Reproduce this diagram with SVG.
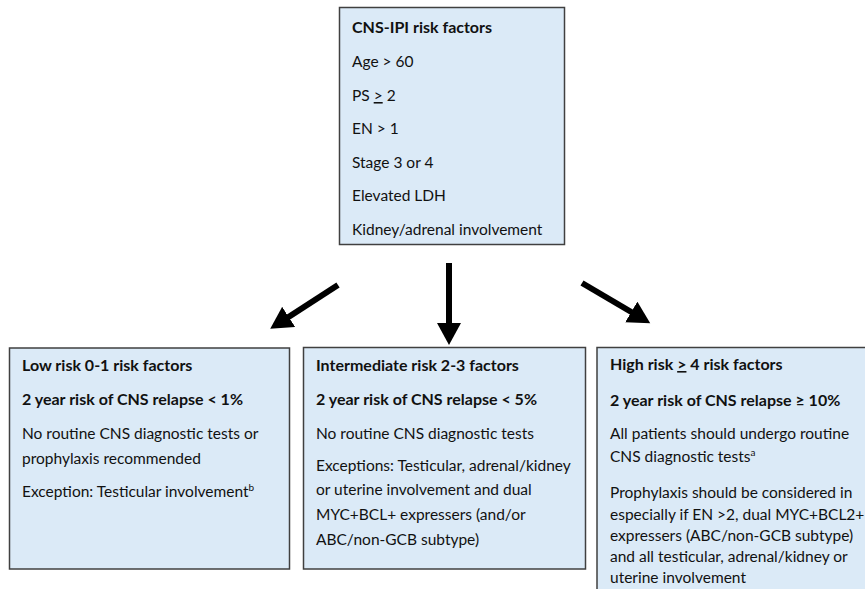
<svg xmlns="http://www.w3.org/2000/svg" width="865" height="589" viewBox="0 0 865 589">
<style>
.box{fill:#DBEAF7;stroke:#404040;stroke-width:1.5}
text{font-family:Lato,"Liberation Sans",sans-serif;font-size:15.5px;fill:#111}
.b{font-weight:bold;font-size:16px}
.u{text-decoration:underline}
.arr{stroke:#000;stroke-width:6;fill:none}
</style>
<defs>
<marker id="ah" markerUnits="userSpaceOnUse" markerWidth="23" markerHeight="24" refX="2" refY="12" orient="auto">
<path d="M0,0 L22,12 L0,24 z" fill="#000"/>
</marker>
</defs>
<rect width="865" height="589" fill="#fff"/>
<g id="top">
<rect class="box" x="339.5" y="7.5" width="225" height="237"/>
<text x="352" y="33" class="b">CNS-IPI risk factors</text>
<text x="352" y="67">Age &gt; 60</text>
<text x="352" y="101">PS <tspan class="u">&gt;</tspan> 2</text>
<text x="352" y="134">EN &gt; 1</text>
<text x="352" y="168">Stage 3 or 4</text>
<text x="352" y="201">Elevated LDH</text>
<text x="352" y="235">Kidney/adrenal involvement</text>
</g>
<g id="low">
<rect class="box" x="9.5" y="348" width="280" height="221"/>
<text x="22" y="371" class="b">Low risk 0-1 risk factors</text>
<text x="22" y="405" class="b">2 year risk of CNS relapse &lt; 1%</text>
<text x="22" y="439">No routine CNS diagnostic tests or</text>
<text x="22" y="464">prophylaxis recommended</text>
<text x="22" y="497">Exception: Testicular involvement<tspan font-size="10" dy="-6">b</tspan></text>
</g>
<g id="intermediate">
<rect class="box" x="303.5" y="347.5" width="282" height="221.5"/>
<text x="316" y="371" class="b">Intermediate risk 2-3 factors</text>
<text x="316" y="405" class="b">2 year risk of CNS relapse &lt; 5%</text>
<text x="316" y="439">No routine CNS diagnostic tests</text>
<text x="316" y="471">Exceptions: Testicular, adrenal/kidney</text>
<text x="316" y="495">or uterine involvement and dual</text>
<text x="316" y="520">MYC+BCL+ expressers (and/or</text>
<text x="316" y="545">ABC/non-GCB subtype)</text>
</g>
<g id="high">
<rect class="box" x="597" y="347.5" width="280" height="260"/>
<text x="610" y="370" class="b">High risk <tspan class="u">&gt;</tspan> 4 risk factors</text>
<text x="610" y="406" class="b">2 year risk of CNS relapse ≥ 10%</text>
<text x="610" y="439">All patients should undergo routine</text>
<text x="610" y="462">CNS diagnostic tests<tspan font-size="10" dy="-6">a</tspan></text>
<text x="610" y="498">Prophylaxis should be considered in</text>
<text x="610" y="520">especially if EN &gt;2, dual MYC+BCL2+</text>
<text x="610" y="541">expressers (ABC/non-GCB subtype)</text>
<text x="610" y="562">and all testicular, adrenal/kidney or</text>
<text x="610" y="583">uterine involvement</text>
</g>
<g id="connectors">
<line class="arr" x1="338" y1="285" x2="287" y2="318" marker-end="url(#ah)"/>
<line class="arr" x1="449" y1="263" x2="449" y2="325" marker-end="url(#ah)"/>
<line class="arr" x1="582" y1="283" x2="633" y2="313" marker-end="url(#ah)"/>
</g>
</svg>
